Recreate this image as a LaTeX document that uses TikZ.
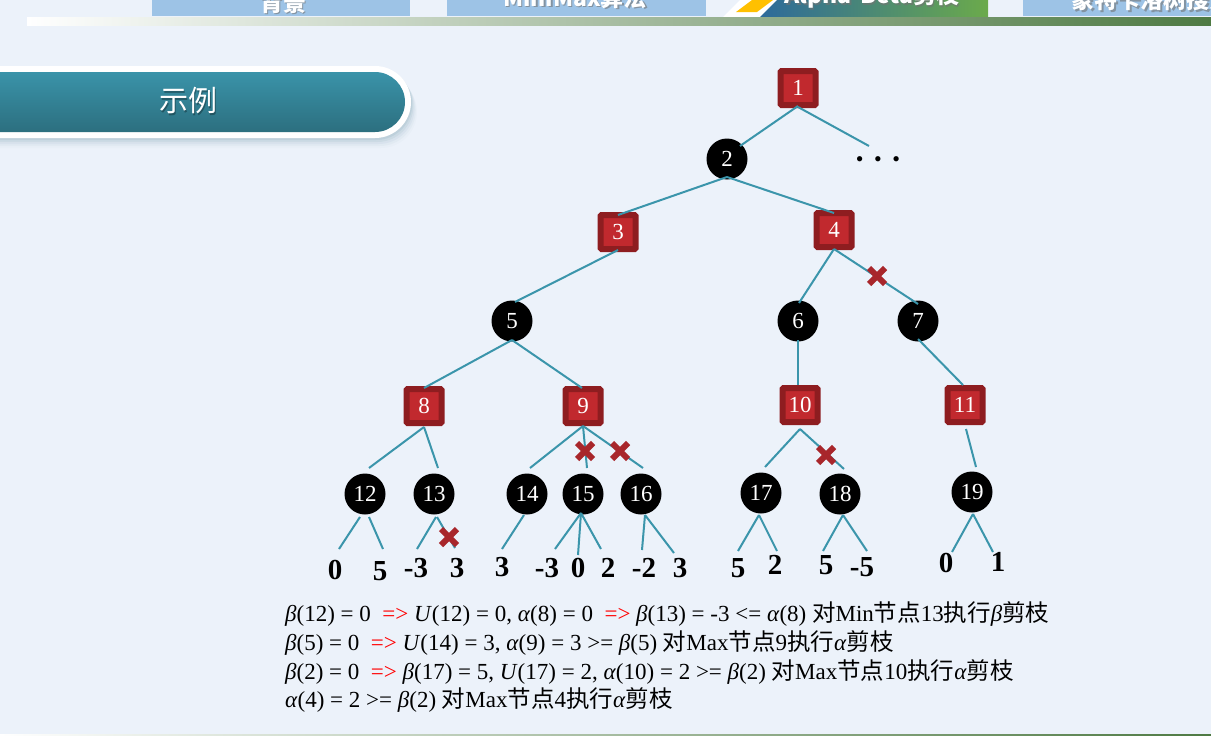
\documentclass[tikz,border=0pt]{standalone}
\usepackage{fontspec}
\setmainfont{Liberation Serif}
\newfontfamily\cjk{Noto Sans CJK SC}
\usetikzlibrary{calc,shapes.misc}
\definecolor{bgcol}{HTML}{ECF2FA}
\definecolor{edgecol}{HTML}{3B95AB}
\definecolor{sqouter}{HTML}{8E1D20}
\definecolor{sqinner}{HTML}{C1292E}
\definecolor{crosscol}{HTML}{A8262B}
\definecolor{tabblue}{HTML}{9DC3E6}
\definecolor{tealtop}{HTML}{3A93A9}
\definecolor{tealbot}{HTML}{2C6F7F}
\definecolor{tabyellow}{HTML}{FFC000}
\definecolor{tabblueL}{HTML}{2D6A9B}
\definecolor{tabgreenR}{HTML}{6BAA4B}
\definecolor{barmid}{HTML}{93ADA5}
\definecolor{bargreen}{HTML}{4E7A43}
\definecolor{shadowcol}{HTML}{8FB0BF}
\definecolor{arrowred}{HTML}{FF0000}
\newcommand\cj[1]{{\cjk\fontsize{23.5}{26}\selectfont #1}}
\begin{document}
\begin{tikzpicture}[x=1pt,y=-1pt,
  maxsq/.style={rectangle, draw=sqouter, fill=sqinner, line width=6pt, minimum width=35pt, minimum height=34pt, inner sep=0pt, rounded corners=1pt, text=white, font=\fontsize{23}{23}\selectfont},
  minc/.style={circle, fill=black, minimum size=41pt, inner sep=0pt, text=white, font=\fontsize{23}{23}\selectfont},
  leaf/.style={font=\bfseries\fontsize{29}{29}\selectfont, inner sep=0pt},
  edge/.style={draw=edgecol, line width=2pt},
  cut/.style={cross out, draw=crosscol, line width=6pt, minimum size=10pt, inner sep=0pt},
  tabtext/.style={anchor=base, text=white, font=\cjk\bfseries\fontsize{23}{23}\selectfont, inner sep=0pt},
  tabshadow/.style={anchor=base, text=black!55, opacity=0.6, font=\cjk\bfseries\fontsize{23}{23}\selectfont, inner sep=0pt},
  expl/.style={anchor=west, inner sep=0pt, font=\fontsize{23}{26}\selectfont}
]
\useasboundingbox (0,0) rectangle (1211,736);
\clip (0,0) rectangle (1211,736);
\fill[bgcol] (0,0) rectangle (1211,736);

% ---- header tabs ----
\fill[tabblue] (152,0) rectangle (410,16);
\fill[tabblue] (447,0) rectangle (706,16);
\fill[white] (723,17) -- (740,0) -- (988,0) -- (988,17) -- cycle;
\fill[tabyellow] (736,12) -- (752,0) -- (773,0) -- (757,12) -- cycle;
\shade[left color=tabblueL, right color=tabgreenR] (760,17) -- (777,0) -- (988,0) -- (988,17) -- cycle;
\fill[tabblue] (1023,0) rectangle (1211,16);
\node[tabshadow] (t1s) at (284.5,12.5) {背景};
\node[tabtext] (t1) at (283,11) {背景};
\node[tabshadow] (t2s) at (576.5,7.5) {MiniMax算法};
\node[tabtext] (t2) at (575,6) {MiniMax算法};
\node[tabshadow] (t3s) at (873.5,5.5) {Alpha-Beta剪枝};
\node[tabtext] (t3) at (872,4) {Alpha-Beta剪枝};
\node[tabshadow] (t4s) at (1153.5,10.5) {蒙特卡洛树搜索};
\node[tabtext] (t4) at (1152,9) {蒙特卡洛树搜索};
\shade[left color=white, middle color=barmid, right color=bargreen] (27,17) rectangle (1211,25);
\shade[left color=white, right color=bargreen] (0,734) rectangle (1211,736);

% ---- title bar ----
\foreach \d/\o in {2/0.22,4/0.16,6/0.11,8/0.07,10/0.04}{
  \fill[shadowcol, opacity=\o, rounded corners=36pt] (-40,66+\d) rectangle (411+\d*0.6,138+\d);
}
\fill[white, rounded corners=36pt] (-40,66) rectangle (411,138);
\shade[top color=tealtop, bottom color=tealbot, rounded corners=30pt] (-40,72) rectangle (405,132);
\node[text=black, opacity=0.3, font=\cjk\fontsize{29}{29}\selectfont] (titles) at (189.5,102.5) {示例};
\node[text=white, font=\cjk\fontsize{29}{29}\selectfont] (title) at (188,101) {示例};

% ---- tree nodes ----
\node[maxsq] (n1) at (798,88) {1};
\node[minc] (n2) at (727,159) {2};
\node[inner sep=0pt, font=\fontsize{22}{22}\selectfont] (dots) at (878,162) {•\hspace{10.5pt}•\hspace{10.5pt}•};
\node[maxsq] (n3) at (618,232) {3};
\node[maxsq] (n4) at (834,230) {4};
\node[minc] (n5) at (512,321) {5};
\node[minc] (n6) at (798,321) {6};
\node[minc] (n7) at (918,321) {7};
\node[maxsq] (n8) at (424,406) {8};
\node[maxsq] (n9) at (583,406) {9};
\node[maxsq] (n10) at (800,405) {10};
\node[maxsq] (n11) at (965,405) {11};
\node[minc] (n12) at (365,494) {12};
\node[minc] (n13) at (434,494) {13};
\node[minc] (n14) at (527,494) {14};
\node[minc] (n15) at (583,494) {15};
\node[minc] (n16) at (641,494) {16};
\node[minc] (n17) at (761,493) {17};
\node[minc] (n18) at (840,494) {18};
\node[minc] (n19) at (972,492) {19};

% ---- leaves ----
\node[leaf] (la) at (335,570) {0};
\node[leaf] (lb) at (380,571) {5};
\node[leaf] (lc) at (416,568) {-3};
\node[leaf] (ld) at (457,568) {3};
\node[leaf] (le) at (502,567) {3};
\node[leaf] (lf) at (547,568) {-3};
\node[leaf] (lg) at (578,568) {0};
\node[leaf] (lh) at (608,568) {2};
\node[leaf] (li) at (644,568) {-2};
\node[leaf] (lj) at (680,568) {3};
\node[leaf] (lk) at (738,568) {5};
\node[leaf] (ll) at (775,565) {2};
\node[leaf] (lm) at (826,565) {5};
\node[leaf] (ln) at (862,567) {-5};
\node[leaf] (lo) at (946,563) {0};
\node[leaf] (lp) at (998,562) {1};

% ---- edges ----
\draw[edge] ($(n1)+(0,18)$) -- ($(n2)+(13,-13)$);
\draw[edge] ($(n1)+(0,19)$) -- ($(dots)+(-9,-16)$);
\draw[edge] ($(n2)+(0,18)$) -- ($(n3)+(0,-17)$);
\draw[edge] ($(n2)+(0,18)$) -- ($(n4)+(0,-17)$);
\draw[edge] ($(n3)+(0,18)$) -- ($(n5)+(3,-19)$);
\draw[edge] ($(n4)+(0,19)$) -- ($(n6)+(1,-18)$);
\draw[edge] ($(n4)+(0,19)$) -- ($(n7)+(0,-17)$);
\draw[edge] ($(n5)+(0,19)$) -- ($(n8)+(0,-18)$);
\draw[edge] ($(n5)+(0,19)$) -- ($(n9)+(-1,-18)$);
\draw[edge] ($(n6)+(0,19)$) -- ($(n10)+(-2,-20)$);
\draw[edge] ($(n7)+(0,18)$) -- ($(n11)+(-2,-20)$);
\draw[edge] ($(n8)+(0,21)$) -- ($(n12)+(4,-26)$);
\draw[edge] ($(n8)+(0,21)$) -- ($(n13)+(4,-26)$);
\draw[edge] ($(n9)+(0,20)$) -- ($(n14)+(3,-26)$);
\draw[edge] ($(n9)+(0,20)$) -- ($(n15)+(4,-26)$);
\draw[edge] ($(n9)+(0,20)$) -- ($(n16)+(2,-26)$);
\draw[edge] ($(n10)+(0,24)$) -- ($(n17)+(4,-26)$);
\draw[edge] ($(n10)+(0,24)$) -- ($(n18)+(4,-25)$);
\draw[edge] ($(n11)+(1,24)$) -- ($(n19)+(4,-25)$);
\draw[edge] ($(n12)+(-5,23)$) -- ($(la)+(4,-21)$);
\draw[edge] ($(n12)+(4,23)$) -- ($(lb)+(3,-22)$);
\draw[edge] ($(n13)+(2,23)$) -- ($(lc)+(1,-19)$);
\draw[edge] ($(n13)+(3,23)$) -- ($(ld)+(-2,-20)$);
\draw[edge] ($(n14)+(-3,21)$) -- ($(le)+(0,-18)$);
\draw[edge] ($(n15)+(-2,19)$) -- ($(lf)+(8,-19)$);
\draw[edge] ($(n15)+(-2,19)$) -- ($(lg)+(0,-13)$);
\draw[edge] ($(n15)+(-2,19)$) -- ($(lh)+(-7,-19)$);
\draw[edge] ($(n16)+(4,21)$) -- ($(li)+(-2,-18)$);
\draw[edge] ($(n16)+(4,21)$) -- ($(lj)+(-6,-15)$);
\draw[edge] ($(n17)+(-2,22)$) -- ($(lk)+(0,-17)$);
\draw[edge] ($(n17)+(-2,22)$) -- ($(ll)+(2,-14)$);
\draw[edge] ($(n18)+(3,21)$) -- ($(lm)+(-3,-14)$);
\draw[edge] ($(n18)+(3,21)$) -- ($(ln)+(5,-16)$);
\draw[edge] ($(n19)+(1,22)$) -- ($(lo)+(6,-11)$);
\draw[edge] ($(n19)+(1,22)$) -- ($(lp)+(-5,-10)$);

% ---- pruning marks ----
\node[cut] (x1) at (877,276) {};
\node[cut] (x2) at (585,451) {};
\node[cut] (x3) at (620,451) {};
\node[cut] (x4) at (826,455) {};
\node[cut] (x5) at (449,537) {};

% ---- explanation ----
\node[expl] (e1) at (285,614) {\textit{β}(12) = 0 \ \textcolor{arrowred}{=>} \textit{U}(12) = 0, \textit{α}(8) = 0 \ \textcolor{arrowred}{=>} \textit{β}(13) = -3 <= \textit{α}(8) \cj{对}Min\cj{节点}13\cj{执行}\textit{β}\cj{剪枝}};
\node[expl] (e2) at (285,643) {\textit{β}(5) = 0 \ \textcolor{arrowred}{=>} \textit{U}(14) = 3, \textit{α}(9) = 3 >= \textit{β}(5) \cj{对}Max\cj{节点}9\cj{执行}\textit{α}\cj{剪枝}};
\node[expl] (e3) at (285,672) {\textit{β}(2) = 0 \ \textcolor{arrowred}{=>} \textit{β}(17) = 5, \textit{U}(17) = 2, \textit{α}(10) = 2 >= \textit{β}(2) \cj{对}Max\cj{节点}10\cj{执行}\textit{α}\cj{剪枝}};
\node[expl] (e4) at (285,700) {\textit{α}(4) = 2 >= \textit{β}(2) \cj{对}Max\cj{节点}4\cj{执行}\textit{α}\cj{剪枝}};
\end{tikzpicture}
\end{document}
